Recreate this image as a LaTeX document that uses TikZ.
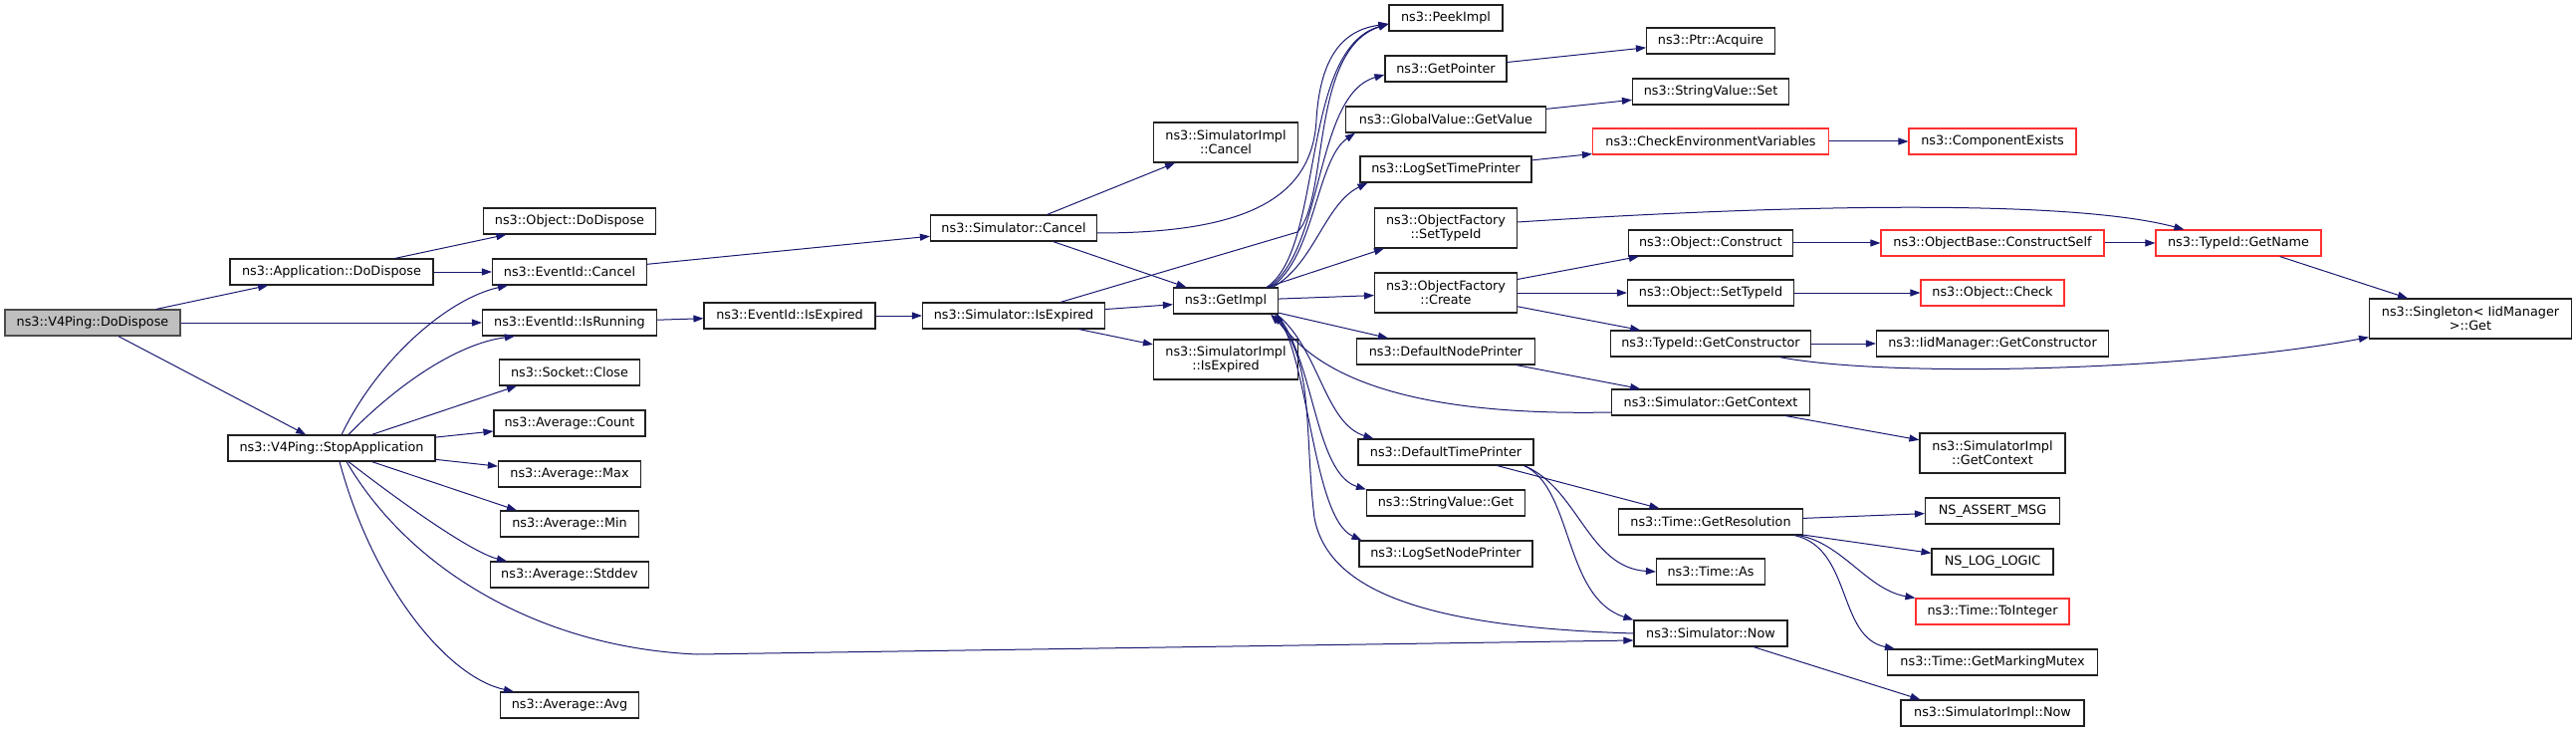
\documentclass[tikz,border=0pt]{standalone}
\usepackage{fontspec}
\setmainfont{DejaVu Sans}
\usetikzlibrary{arrows.meta}
\definecolor{edgec}{HTML}{191970}
\definecolor{redc}{HTML}{FF3030}
\definecolor{rootfill}{HTML}{BFBFBF}
\definecolor{boxc}{HTML}{202020}
\begin{document}
\begin{tikzpicture}[x=1pt,y=-1pt,
 fn/.style={draw=boxc, line width=1.15pt, fill=white, minimum height=26pt, inner sep=0pt,
   font=\fontsize{12.8}{14}\selectfont, align=center},
 fn2/.style={fn, minimum height=40pt},
 trunc/.style={draw=redc},
 root/.style={fill=rootfill, draw=black!70},
 e/.style={draw=edgec, line width=1.0pt, -{Triangle[length=10pt,width=7pt]}}]
\useasboundingbox (0,0) rectangle (2587,735);

% column 0-1
\node[fn, root, minimum width=176pt] (dd) at (93,324) {ns3::V4Ping::DoDispose};
\node[fn, minimum width=204pt] (appdd) at (333,273) {ns3::Application::DoDispose};
\node[fn, minimum width=208pt] (stop) at (333,450) {ns3::V4Ping::StopApplication};
% column 2
\node[fn, minimum width=173pt] (objdd) at (572,222) {ns3::Object::DoDispose};
\node[fn, minimum width=155pt] (evcancel) at (572,273) {ns3::EventId::Cancel};
\node[fn, minimum width=175pt] (isrunning) at (572,324) {ns3::EventId::IsRunning};
\node[fn, minimum width=141pt] (socket) at (572,374) {ns3::Socket::Close};
\node[fn, minimum width=152pt] (count) at (572,425) {ns3::Average::Count};
\node[fn, minimum width=143pt] (max) at (572,476) {ns3::Average::Max};
\node[fn, minimum width=139pt] (min) at (572,526) {ns3::Average::Min};
\node[fn, minimum width=159pt] (stddev) at (572,577) {ns3::Average::Stddev};
\node[fn, minimum width=139pt] (avg) at (572,708) {ns3::Average::Avg};
% column 3-5
\node[fn, minimum width=172pt] (isexpired) at (793,317) {ns3::EventId::IsExpired};
\node[fn, minimum width=167pt] (simcancel) at (1018,229) {ns3::Simulator::Cancel};
\node[fn, minimum width=183pt] (simisexpired) at (1018,317) {ns3::Simulator::IsExpired};
\node[fn2, minimum width=145pt] (simimplcancel) at (1231,143) {ns3::SimulatorImpl\\::Cancel};
\node[fn, minimum width=105pt] (getimpl) at (1231,302) {ns3::GetImpl};
\node[fn2, minimum width=145pt] (simimplisexp) at (1231,361) {ns3::SimulatorImpl\\::IsExpired};
% column 6
\node[fn, minimum width=114pt] (peek) at (1452,18) {ns3::PeekImpl};
\node[fn, minimum width=122pt] (getpointer) at (1452,69) {ns3::GetPointer};
\node[fn, minimum width=201pt] (gv) at (1452,120) {ns3::GlobalValue::GetValue};
\node[fn, minimum width=172pt] (lstp) at (1452,170) {ns3::LogSetTimePrinter};
\node[fn2, minimum width=143pt] (sti) at (1452,229) {ns3::ObjectFactory\\::SetTypeId};
\node[fn2, minimum width=143pt] (create) at (1452,294) {ns3::ObjectFactory\\::Create};
\node[fn, minimum width=179pt] (dnp) at (1452,353) {ns3::DefaultNodePrinter};
\node[fn, minimum width=176pt] (dtp) at (1452,454) {ns3::DefaultTimePrinter};
\node[fn, minimum width=159pt] (svg) at (1452,505) {ns3::StringValue::Get};
\node[fn, minimum width=174pt] (lsnp) at (1452,556) {ns3::LogSetNodePrinter};
% column 7
\node[fn, minimum width=129pt] (acquire) at (1718,41) {ns3::Ptr::Acquire};
\node[fn, minimum width=157pt] (stringset) at (1718,92) {ns3::StringValue::Set};
\node[fn, trunc, minimum width=237pt] (checkenv) at (1718,142) {ns3::CheckEnvironmentVariables};
\node[fn, minimum width=165pt] (construct) at (1718,244) {ns3::Object::Construct};
\node[fn, minimum width=167pt] (settypeid) at (1718,294) {ns3::Object::SetTypeId};
\node[fn, minimum width=201pt] (getctor) at (1718,345) {ns3::TypeId::GetConstructor};
\node[fn, minimum width=199pt] (getcontext) at (1718,404) {ns3::Simulator::GetContext};
\node[fn, minimum width=185pt] (getres) at (1718,524) {ns3::Time::GetResolution};
\node[fn, minimum width=109pt] (timeas) at (1718,574) {ns3::Time::As};
\node[fn, minimum width=154pt] (now) at (1718,636) {ns3::Simulator::Now};
% column 8
\node[fn, trunc, minimum width=168pt] (compexists) at (2001,142) {ns3::ComponentExists};
\node[fn, trunc, minimum width=224pt] (constructself) at (2001,244) {ns3::ObjectBase::ConstructSelf};
\node[fn, trunc, minimum width=144pt] (check) at (2001,294) {ns3::Object::Check};
\node[fn, minimum width=233pt] (iidgetctor) at (2001,345) {ns3::IidManager::GetConstructor};
\node[fn2, minimum width=146pt] (simimplgetctx) at (2001,455) {ns3::SimulatorImpl\\::GetContext};
\node[fn, minimum width=135pt] (nsassert) at (2001,513) {NS\_ASSERT\_MSG};
\node[fn, minimum width=122pt] (nslog) at (2001,564) {NS\_LOG\_LOGIC};
\node[fn, trunc, minimum width=154pt] (tointeger) at (2001,614) {ns3::Time::ToInteger};
\node[fn, minimum width=211pt] (gmm) at (2001,665) {ns3::Time::GetMarkingMutex};
\node[fn, minimum width=184pt] (simplnow) at (2001,716) {ns3::SimulatorImpl::Now};
% column 9-10
\node[fn, trunc, minimum width=166pt] (getname) at (2248,244) {ns3::TypeId::GetName};
\node[fn2, minimum width=203pt] (singleton) at (2481,320) {ns3::Singleton< IidManager\\ >::Get};

% edges from the root
\draw[e] (dd) -- (appdd);
\draw[e] (dd) -- (isrunning);
\draw[e] (dd) -- (stop);
\draw[e] (appdd) -- (objdd);
\draw[e] (appdd) -- (evcancel);
% StopApplication
\draw[e] ([xshift=10pt]stop.north) .. controls (380,360) and (450,300) .. ([xshift=16pt]evcancel.south west);
\draw[e] ([xshift=17pt]stop.north) .. controls (400,385) and (460,345) .. ([xshift=33pt]isrunning.south west);
\draw[e] (stop) -- ([xshift=18pt]socket.south west);
\draw[e] (stop) -- (count);
\draw[e] (stop) -- (max);
\draw[e] (stop) -- ([xshift=17pt]min.north west);
\draw[e] ([xshift=17pt]stop.south) .. controls (410,510) and (475,555) .. ([xshift=17pt]stddev.north west);
\draw[e] ([xshift=15pt]stop.south) .. controls (410,570) and (540,650) .. (700,657) -- ([yshift=-7pt]now.west);
\draw[e] ([xshift=8pt]stop.south) .. controls (375,590) and (450,680) .. ([xshift=14pt]avg.north west);
% middle chain
\draw[e] (evcancel) -- (simcancel);
\draw[e] (isrunning) -- (isexpired);
\draw[e] (isexpired) -- (simisexpired);
\draw[e] (simcancel) -- (simimplcancel);
\draw[e] (simcancel) -- (getimpl);
\draw[e] ([yshift=-5pt]simcancel.east) .. controls (1250,234) and (1318,200) .. (1322,120) .. controls (1326,55) and (1350,30) .. ([yshift=-6pt]peek.west);
\draw[e] ([xshift=47pt]simisexpired.north) -- (1303,233) .. controls (1335,200) and (1315,50) .. ([yshift=-6pt]peek.west);
\draw[e] (simisexpired) -- (simimplisexp);
\draw[e] (simisexpired) -- (getimpl);
% GetImpl outgoing
\draw[e] ([xshift=-12pt]getimpl.north east) .. controls (1330,250) and (1305,50) .. ([yshift=-6pt]peek.west);
\draw[e] ([xshift=-10pt]getimpl.north east) .. controls (1330,250) and (1320,95) .. ([yshift=-6pt]getpointer.west);
\draw[e] ([xshift=-8pt]getimpl.north east) .. controls (1320,260) and (1322,160) .. ([xshift=10pt]gv.south west);
\draw[e] ([xshift=-6pt]getimpl.north east) .. controls (1320,265) and (1330,205) .. ([xshift=8pt]lstp.south west);
\draw[e] (getimpl) -- ([xshift=10pt]sti.south west);
\draw[e] (getimpl) -- (create);
\draw[e] (getimpl) -- ([xshift=32pt]dnp.north west);
\draw[e] ([xshift=-2pt]getimpl.south east) .. controls (1325,350) and (1330,425) .. ([xshift=16pt]dtp.north west);
\draw[e] ([xshift=-2pt]getimpl.south east) .. controls (1320,360) and (1320,475) .. (svg.north west);
\draw[e] ([xshift=-2pt]getimpl.south east) .. controls (1315,360) and (1318,520) .. ([xshift=3pt]lsnp.north west);
% GetImpl incoming
\draw[e] ([yshift=-10pt]getcontext.west) .. controls (1420,418) and (1325,380) .. ([xshift=-4pt]getimpl.south east);
\draw[e] (now.west) .. controls (1450,630) and (1335,600) .. (1320,520) .. controls (1310,440) and (1320,360) .. ([xshift=-8pt]getimpl.south east);
% right part
\draw[e] (getpointer) -- (acquire);
\draw[e] (gv) -- (stringset);
\draw[e] (lstp) -- (checkenv);
\draw[e] (checkenv) -- (compexists);
\draw[e] ([yshift=6pt]sti.east) .. controls (1800,205) and (2080,200) .. ([xshift=29pt]getname.north west);
\draw[e] (create) -- (construct);
\draw[e] (create) -- (settypeid);
\draw[e] (create) -- (getctor);
\draw[e] (construct) -- (constructself);
\draw[e] (constructself) -- (getname);
\draw[e] (settypeid) -- (check);
\draw[e] (getctor) -- (iidgetctor);
\draw[e] ([xshift=-32pt]getctor.south east) .. controls (1900,380) and (2200,372) .. ([yshift=2pt]singleton.south west);
\draw[e] (getname) -- (singleton);
\draw[e] (dnp) -- (getcontext);
\draw[e] (getcontext) -- (simimplgetctx);
\draw[e] (dtp) -- (getres);
\draw[e] ([xshift=-10pt]dtp.south east) .. controls (1585,490) and (1595,570) .. (timeas.west);
\draw[e] ([xshift=-10pt]dtp.south east) .. controls (1580,490) and (1570,600) .. (now.north west);
\draw[e] (getres) -- (nsassert);
\draw[e] (getres) -- (nslog);
\draw[e] ([xshift=-5pt]getres.south east) .. controls (1850,545) and (1875,592) .. (tointeger.north west);
\draw[e] ([xshift=-9pt]getres.south east) .. controls (1860,550) and (1845,640) .. ([xshift=8pt]gmm.north west);
\draw[e] (now) -- ([xshift=20pt]simplnow.north west);
\end{tikzpicture}
\end{document}
